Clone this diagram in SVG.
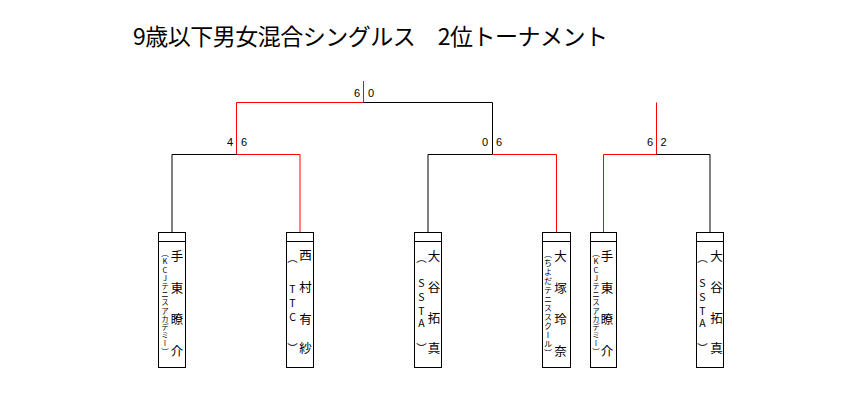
<svg xmlns="http://www.w3.org/2000/svg" width="862" height="404" viewBox="0 0 862 404">
<style>
  .bg{fill:#fff}
  .box{fill:#fff;stroke:#000;stroke-width:1}
  .k{stroke:#000;stroke-width:1;fill:none}
  .r{stroke:#f00;stroke-width:1;fill:none}
  .title{font-family:"Noto Sans CJK JP","Liberation Sans",sans-serif;font-size:23px;fill:#000}
  .score{font-family:"Liberation Sans",Arial,sans-serif;font-size:11px;fill:#000;text-anchor:middle}
  .v{font-family:"Noto Sans CJK JP",sans-serif;fill:#000;writing-mode:vertical-rl;text-orientation:upright;text-anchor:middle}
  .nm{font-size:12.5px}
  .af{font-size:7.5px}
  .af2{font-size:8px}
  .ab{font-size:10.5px}
</style>
<rect class="bg" x="0" y="0" width="862" height="404"/>
<text id="title" class="title" x="133" y="44.5" textLength="475" lengthAdjust="spacing">9歳以下男女混合シングルス　2位トーナメント</text>

<g id="connectors">
  <path class="r" d="M363.5 81 V102.5 H236.5 V154.5 H300 V232"/>
  <path class="k" d="M363.5 102.5 H492.5 V154.5 H428 V232"/>
  <path class="k" d="M236.5 154.5 H172 V232"/>
  <path class="r" d="M492.5 154.5 H556.5 V232"/>
  <path class="r" d="M656.5 102.5 V154.5 H603.5 V232"/>
  <path class="k" d="M656.5 154.5 H710 V232"/>
</g>

<g id="scores">
  <text class="score" x="357" y="96.5">6</text>
  <text class="score" x="371" y="96.5">0</text>
  <text class="score" x="230" y="146">4</text>
  <text class="score" x="244" y="146">6</text>
  <text class="score" x="485" y="146">0</text>
  <text class="score" x="499" y="146">6</text>
  <text class="score" x="650" y="146">6</text>
  <text class="score" x="663.5" y="146">2</text>
</g>

<g id="p1">
  <rect class="box" x="158.5" y="232.5" width="27" height="135"/>
  <line class="k" x1="158.5" y1="241.5" x2="185.5" y2="241.5"/>
  <text class="v nm" x="177" y="256.5 288 319.5 351">手東瞭介</text>
  <text class="v af" x="165" y="253.3 261.5 269.7 277.9 286.1 294.3 302.5 310.7 318.9 327.1 335.3 343.5 351.7">（KCJテニスアカデミー）</text>
</g>

<g id="p2">
  <rect class="box" x="286.5" y="232.5" width="27" height="135"/>
  <line class="k" x1="286.5" y1="241.5" x2="313.5" y2="241.5"/>
  <text class="v nm" x="305.5" y="255.5 287 319 348.5">西村有紗</text>
  <text class="v ab" x="292.5" y="258 289.3 302.7 316.7 348">（TTC）</text>
</g>

<g id="p3">
  <rect class="box" x="414.5" y="232.5" width="27" height="135"/>
  <line class="k" x1="414.5" y1="241.5" x2="441.5" y2="241.5"/>
  <text class="v nm" x="434" y="256.5 287 318.5 348.5">大谷拓真</text>
  <text class="v ab" x="421.5" y="258 283.3 297.3 310.7 323.3 348">（SSTA）</text>
</g>

<g id="p4">
  <rect class="box" x="542.5" y="232.5" width="28" height="135"/>
  <line class="k" x1="542.5" y1="241.5" x2="570.5" y2="241.5"/>
  <text class="v nm" x="560.5" y="256.5 288 319.5 351">大塚玲奈</text>
  <text class="v af2" x="548" y="253.5 262.5 271.5 280.5 289.5 298.5 307.5 316.5 325.5 334.5 343.5 352.5">（ちよだテニススクール）</text>
</g>

<g id="p5">
  <rect class="box" x="590.5" y="232.5" width="26" height="135"/>
  <line class="k" x1="590.5" y1="241.5" x2="616.5" y2="241.5"/>
  <text class="v nm" x="607" y="256.5 288 319.5 351">手東瞭介</text>
  <text class="v af" x="596" y="253.3 261.5 269.7 277.9 286.1 294.3 302.5 310.7 318.9 327.1 335.3 343.5 351.7">（KCJテニスアカデミー）</text>
</g>

<g id="p6">
  <rect class="box" x="696.5" y="232.5" width="27" height="135"/>
  <line class="k" x1="696.5" y1="241.5" x2="723.5" y2="241.5"/>
  <text class="v nm" x="716.5" y="256.5 287 318.5 348.5">大谷拓真</text>
  <text class="v ab" x="702.5" y="258 283.3 297.3 310.7 323.3 348">（SSTA）</text>
</g>
</svg>
